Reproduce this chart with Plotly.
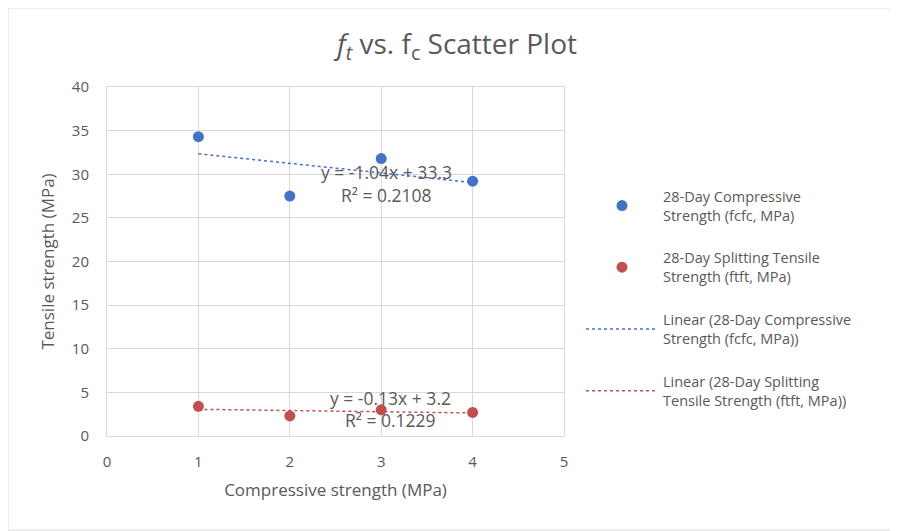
import numpy as np
import plotly.graph_objects as go

x_vals = [1, 2, 3, 4]
compressive = [34.3, 27.5, 31.8, 29.2]
tensile = [3.4, 2.3, 3.0, 2.7]

name_c = "28-Day Compressive<br>Strength (fcfc, MPa)"
name_t = "28-Day Splitting Tensile<br>Strength (ftft, MPa)"
name_lc = "Linear (28-Day Compressive<br>Strength (fcfc, MPa))"
name_lt = "Linear (28-Day Splitting<br>Tensile Strength (ftft, MPa))"

eq_c = ["y = -1.04x + 33.3", "R² = 0.2108"]
eq_t = ["y = -0.13x + 3.2", "R² = 0.1229"]

blue = "#4472C4"
red = "#C0504D"
grey = "#595959"
font = "Open Sans"

xa = np.array(x_vals, dtype=float)
pc = np.polyfit(xa, compressive, 1)
pt = np.polyfit(xa, tensile, 1)
xl = np.array([min(x_vals), max(x_vals)], dtype=float)

fig = go.Figure()
fig.add_trace(go.Scatter(x=x_vals, y=compressive, mode="markers", name=name_c,
                         marker=dict(color=blue, size=11), legendgroup="a"))
fig.add_trace(go.Scatter(x=x_vals, y=tensile, mode="markers", name=name_t,
                         marker=dict(color=red, size=11), legendgroup="b"))
fig.add_trace(go.Scatter(x=xl, y=np.polyval(pc, xl), mode="lines", name=name_lc,
                         line=dict(color=blue, width=1.5, dash="dot"), legendgroup="c"))
fig.add_trace(go.Scatter(x=xl, y=np.polyval(pt, xl), mode="lines", name=name_lt,
                         line=dict(color=red, width=1.5, dash="dot"), legendgroup="d"))

ann = []
for txt, yy in zip(eq_c, [30.3, 27.6]):
    ann.append(dict(x=3.06, y=yy, text=txt, showarrow=False, xref="x", yref="y",
                    font=dict(size=17.5, color=grey, family=font)))
for txt, yy in zip(eq_t, [4.4, 1.8]):
    ann.append(dict(x=3.1, y=yy, text=txt, showarrow=False, xref="x", yref="y",
                    font=dict(size=17.5, color=grey, family=font)))

W, H = 890, 523
L, T, R, B = 99, 79, 334, 95
pw, ph = W - L - R, H - T - B

fig.update_layout(
    width=W, height=H,
    margin=dict(l=L, r=R, t=T, b=B),
    paper_bgcolor="white", plot_bgcolor="white",
    font=dict(family=font, color=grey, size=14),
    title=dict(text="<i>f<sub>t</sub></i> vs. f<sub>c</sub> Scatter Plot",
               x=0.5045, xanchor="center", xref="container", y=0.93, yref="container",
               yanchor="middle",
               font=dict(size=28, color=grey, family=font)),
    xaxis=dict(range=[0, 5], dtick=1, showgrid=True, gridcolor="#D9D9D9",
               zeroline=False, showline=True, linecolor="#D9D9D9", mirror=True,
               ticks="", tickfont=dict(size=15, color=grey), ticklabelstandoff=12,
               title=dict(text="Compressive strength (MPa)", font=dict(size=17, color=grey), standoff=14)),
    yaxis=dict(range=[0, 40], dtick=5, showgrid=True, gridcolor="#D9D9D9",
               zeroline=False, showline=True, linecolor="#D9D9D9", mirror=True,
               ticks="", tickfont=dict(size=15, color=grey), ticklabelstandoff=14,
               title=dict(text="Tensile strength (MPa)", font=dict(size=17, color=grey), standoff=12)),
    legend=dict(x=1 + (573 - (W - R)) / pw, xanchor="left", y=0.733, yanchor="top",
                tracegroupgap=21, itemwidth=72,
                font=dict(size=14.5, color=grey, family=font), bgcolor="rgba(0,0,0,0)"),
    annotations=ann,
    shapes=[dict(type="rect", xref="paper", yref="paper",
                 x0=(0 - L) / pw, x1=(W - 1 - L) / pw,
                 y0=-(B - 1) / ph, y1=1 + (T - 0) / ph,
                 line=dict(color="#D9D9D9", width=1), layer="below")],
)

fig.write_html("out.html")
